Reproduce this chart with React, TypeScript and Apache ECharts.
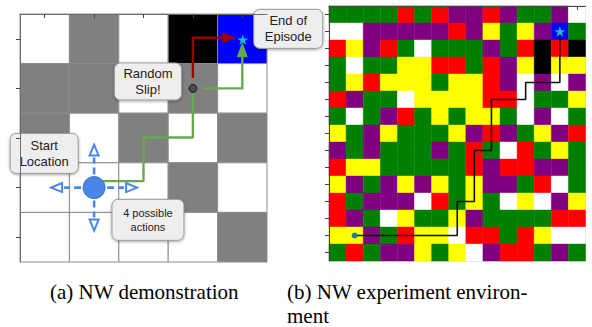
import React, { useEffect, useRef } from 'react';
import * as echarts from 'echarts';

// ---------------- data ----------------
// (a) demonstration world, rows from top; W white, G gray, K black, B blue
const demoRows = ['WGWKB', 'GGWGW', 'GWGWG', 'WWWGW', 'WWWWG'];
// (b) experiment environment, rows from top
const envRows = [
  'GGGGRGRPPRPGGPW',
  'WWPPPPPRPYGYPBG',
  'RYPRGWGGGPGRKRK',
  'GWGGYYRRGRPYKYY',
  'GYRYYYGYYRPWPWP',
  'RPGGWYYYYRRWGGY',
  'GWGPRGYGYYGWPWG',
  'YGPYGGGYPRPGYPR',
  'PGPGGGPGRGWRGYG',
  'RYYGGGGGRPRRPPG',
  'YPGPYPYGYPPGRWG',
  'RGPPPWRGYGWYWPY',
  'RPGWYGGYPGGGGRR',
  'YYPGRYYWRRGRYWW',
  'GRGPPYGYWPRRGPG',
];
const demoPalette: Record<string, string> = { W: '#ffffff', G: '#808080', K: '#000000', B: '#0000ff' };
const envPalette: Record<string, string> = {
  W: '#ffffff', G: '#008000', R: '#ff0000', P: '#800080', Y: '#ffff00', K: '#000000', B: '#0000ff',
};

const demoTicks = [0.5, 1.5, 2.5, 3.5, 4.5];
const envTicks = [0.5, 1.5, 2.5, 3.5, 4.5, 5.5, 6.5, 7.5, 8.5, 9.5, 10.5, 11.5, 12.5, 13.5, 14.5];

const demoStart = [1.5, 3.5];
const demoSlip = [3.5, 1.5];
const demoGoal = [4.51, 0.52];
const demoPlannedPath = [[1.5, 3.37], [2.5, 3.37], [2.5, 2.49], [3.5, 2.49], [3.5, 1.6]];
const demoSlipPath = [[3.7, 1.5], [4.5, 1.5], [4.5, 0.6]];
const demoIntendedPath = [[3.5, 1.29], [3.5, 0.48], [4.35, 0.48]];
const actionDirections = [[0, -1], [0, 1], [-1, 0], [1, 0]];

const envStart = [1.5, 13.5];
const envGoal = [13.5, 1.5];
const envPath = [
  [1.5, 13.5], [7.5, 13.5], [7.5, 11.5], [8.5, 11.5], [8.5, 8.5], [9.5, 8.5],
  [9.5, 5.5], [11.5, 5.5], [11.5, 4.5], [13.5, 4.5], [13.5, 1.5],
];

const calloutTexts = ['Start\nLocation', 'Random\nSlip!', '4 possible\nactions', 'End of\nEpisode'];
const calloutAnchors = [[0.49, 2.81], [2.59, 1.36], [2.59, 4.15], [5.43, 0.3]];

const captionA = '(a) NW demonstration';
const captionB1 = '(b) NW experiment environ-';
const captionB2 = 'ment';

// ---------------- styles ----------------
const calloutBoxes = [
  { w: 68, h: 40, fs: 13 },
  { w: 67, h: 37, fs: 13 },
  { w: 72, h: 41, fs: 11 },
  { w: 69, h: 39, fs: 13 },
];
const starPath =
  'path://M50,0 L61.2,34.5 L97.6,34.5 L68.2,55.9 L79.4,90.5 L50,69.1 L20.6,90.5 L31.8,55.9 L2.4,34.5 L38.8,34.5 Z';
const GREEN = '#6aa84f';
const DARKRED = '#a00000';
const ACTION_BLUE = '#4a86e8';
const SERIF = '"Liberation Serif", "Times New Roman", serif';

function makeAxis(grid: number, max: number, ticks: number[], lineColor: string, isY: boolean) {
  return {
    gridIndex: grid,
    type: 'value',
    min: 0,
    max,
    inverse: isY,
    z: 10,
    axisLine: { show: true, lineStyle: { color: lineColor, width: 1 } },
    axisTick: { show: true, customValues: ticks, length: 4, lineStyle: { color: '#444', width: 1 } },
    axisLabel: { show: false },
    splitLine: { show: false },
  };
}

function cellSeries(grid: number, rows: string[], palette: Record<string, string>, stroke: string | null) {
  const data: number[][] = [];
  rows.forEach((row, r) => {
    for (let c = 0; c < row.length; c++) data.push([c, r]);
  });
  return {
    type: 'custom',
    xAxisIndex: grid,
    yAxisIndex: grid,
    z: 1,
    clip: false,
    data,
    renderItem: (_p: any, api: any) => {
      const c = api.value(0);
      const r = api.value(1);
      const a = api.coord([c, r]);
      const b = api.coord([c + 1, r + 1]);
      const color = palette[rows[r][c]];
      return {
        type: 'rect',
        shape: {
          x: Math.min(a[0], b[0]),
          y: Math.min(a[1], b[1]),
          width: Math.abs(b[0] - a[0]),
          height: Math.abs(b[1] - a[1]),
        },
        style: { fill: color, stroke: stroke || color, lineWidth: stroke ? 1 : 0.4 },
      };
    },
  };
}

function arrowSeries(points: number[][], color: string, width: number, headLen: number, headHalf: number) {
  return {
    type: 'custom',
    xAxisIndex: 0,
    yAxisIndex: 0,
    z: 4,
    clip: false,
    data: [points[0]],
    renderItem: (_p: any, api: any) => {
      const px = points.map((p) => api.coord(p));
      const n = px.length;
      const tip = px[n - 1];
      const prev = px[n - 2];
      const dx = tip[0] - prev[0];
      const dy = tip[1] - prev[1];
      const L = Math.hypot(dx, dy) || 1;
      const ux = dx / L;
      const uy = dy / L;
      const base = [tip[0] - ux * headLen, tip[1] - uy * headLen];
      const linePts = [...px.slice(0, n - 1), base];
      const head = [
        tip,
        [base[0] + uy * headHalf, base[1] - ux * headHalf],
        [base[0] - uy * headHalf, base[1] + ux * headHalf],
      ];
      return {
        type: 'group',
        children: [
          { type: 'polyline', shape: { points: linePts }, style: { stroke: color, lineWidth: width, fill: null } },
          { type: 'polygon', shape: { points: head }, style: { fill: color, stroke: color, lineWidth: 1 } },
        ],
      };
    },
  };
}

const App: React.FC = () => {
  const ref = useRef<HTMLDivElement>(null);

  useEffect(() => {
    if (!ref.current) return;
    const chart = echarts.init(ref.current, null, { renderer: 'svg' });

    const option: any = {
      animation: false,
      grid: [
        { left: 20, top: 14, width: 247, height: 248, show: false },
        { left: 329, top: 6, width: 256.5, height: 255, show: true, borderColor: '#c4c4c4', borderWidth: 1, backgroundColor: 'transparent' },
      ],
      xAxis: [makeAxis(0, 5, demoTicks, '#6e6e6e', false), makeAxis(1, 15, envTicks, '#444', false)],
      yAxis: [makeAxis(0, 5, demoTicks, '#6e6e6e', true), makeAxis(1, 15, envTicks, '#444', true)],
      series: [
        cellSeries(0, demoRows, demoPalette, '#8c8c8c'),
        cellSeries(1, envRows, envPalette, null),
        // planned (green) path before the slip
        {
          type: 'line',
          xAxisIndex: 0,
          yAxisIndex: 0,
          z: 4,
          data: demoPlannedPath,
          symbol: 'none',
          lineStyle: { color: GREEN, width: 2.4 },
        },
        arrowSeries(demoSlipPath, GREEN, 2.4, 13, 5),
        arrowSeries(demoIntendedPath, DARKRED, 2.4, 12, 5),
        // four dashed action arrows
        {
          type: 'custom',
          xAxisIndex: 0,
          yAxisIndex: 0,
          z: 5,
          clip: false,
          data: actionDirections.map(() => demoStart),
          renderItem: (params: any, api: any) => {
            const c = api.coord(demoStart);
            const d = actionDirections[params.dataIndex];
            const s = [c[0] + d[0] * 13, c[1] + d[1] * 13];
            const tip = [c[0] + d[0] * 43, c[1] + d[1] * 43];
            const base = [tip[0] - d[0] * 11, tip[1] - d[1] * 11];
            const hh = 4.5;
            const head = [tip, [base[0] + d[1] * hh, base[1] - d[0] * hh], [base[0] - d[1] * hh, base[1] + d[0] * hh]];
            return {
              type: 'group',
              children: [
                {
                  type: 'line',
                  shape: { x1: s[0], y1: s[1], x2: base[0] - d[0] * 2, y2: base[1] - d[1] * 2 },
                  style: { stroke: ACTION_BLUE, lineWidth: 2.6, lineDash: [7, 4] },
                },
                { type: 'polygon', shape: { points: head }, style: { fill: '#ffffff', stroke: ACTION_BLUE, lineWidth: 2 } },
              ],
            };
          },
        },
        {
          type: 'scatter',
          xAxisIndex: 0,
          yAxisIndex: 0,
          z: 6,
          data: [demoStart],
          symbolSize: 22,
          itemStyle: { color: ACTION_BLUE, borderColor: '#3a6fc4', borderWidth: 1, opacity: 1 },
        },
        {
          type: 'scatter',
          xAxisIndex: 0,
          yAxisIndex: 0,
          z: 6,
          data: [demoSlip],
          symbolSize: 8,
          itemStyle: { color: '#4a4a4a', borderColor: '#1e1e1e', borderWidth: 1, opacity: 1 },
        },
        {
          type: 'scatter',
          xAxisIndex: 0,
          yAxisIndex: 0,
          z: 6,
          data: [demoGoal],
          symbol: starPath,
          symbolKeepAspect: true,
          symbolSize: 11,
          itemStyle: { color: '#17becf', opacity: 1 },
        },
        // experiment path
        {
          type: 'line',
          xAxisIndex: 1,
          yAxisIndex: 1,
          z: 4,
          data: envPath,
          symbol: 'none',
          lineStyle: { color: '#111111', width: 1.6 },
        },
        {
          type: 'scatter',
          xAxisIndex: 1,
          yAxisIndex: 1,
          z: 6,
          data: [envStart],
          symbolSize: 6,
          itemStyle: { color: '#1f77b4', opacity: 1 },
        },
        {
          type: 'scatter',
          xAxisIndex: 1,
          yAxisIndex: 1,
          z: 6,
          data: [envGoal],
          symbol: starPath,
          symbolKeepAspect: true,
          symbolSize: 11,
          itemStyle: { color: '#17becf', opacity: 1 },
        },
        // callout boxes
        {
          type: 'custom',
          xAxisIndex: 0,
          yAxisIndex: 0,
          z: 8,
          clip: false,
          data: calloutAnchors,
          renderItem: (params: any, api: any) => {
            const i = params.dataIndex;
            const box = calloutBoxes[i];
            const c = api.coord(calloutAnchors[i]);
            return {
              type: 'group',
              children: [
                {
                  type: 'rect',
                  shape: { x: c[0] - box.w / 2, y: c[1] - box.h / 2, width: box.w, height: box.h, r: 6 },
                  style: {
                    fill: '#eeeeee',
                    stroke: '#9a9a9a',
                    lineWidth: 1,
                    shadowBlur: 3,
                    shadowOffsetY: 1,
                    shadowColor: 'rgba(0,0,0,0.35)',
                  },
                },
                {
                  type: 'text',
                  style: {
                    text: calloutTexts[i],
                    x: c[0],
                    y: c[1],
                    align: 'center',
                    verticalAlign: 'middle',
                    fontFamily: '"Liberation Sans", Arial, sans-serif',
                    fontSize: box.fs,
                    lineHeight: box.fs + 3,
                    fill: '#222222',
                  },
                },
              ],
            };
          },
        },
      ],
      graphic: [
        {
          type: 'text',
          left: 50,
          top: 281,
          style: { text: captionA, fontFamily: SERIF, fontSize: 21, lineHeight: 22, fill: '#000' },
        },
        {
          type: 'text',
          left: 287,
          top: 281,
          style: { text: captionB1, fontFamily: SERIF, fontSize: 21, lineHeight: 22, fill: '#000' },
        },
        {
          type: 'text',
          left: 287,
          top: 305,
          style: { text: captionB2, fontFamily: SERIF, fontSize: 21, lineHeight: 22, fill: '#000' },
        },
      ],
    };

    chart.setOption(option);
    return () => chart.dispose();
  }, []);

  return (
    <div
      ref={ref}
      style={{ position: 'fixed', left: 0, top: 0, width: 592, height: 327, background: '#ffffff' }}
    />
  );
};

export default App;
